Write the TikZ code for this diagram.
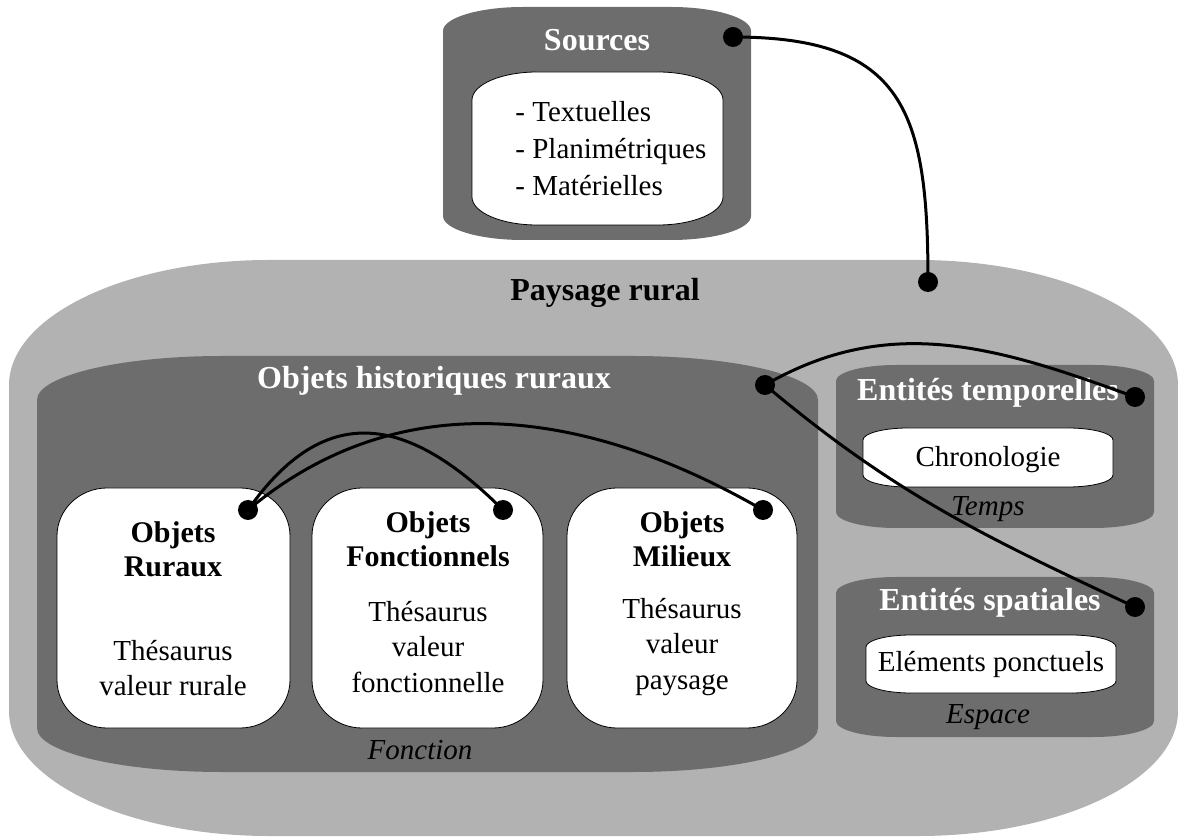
\documentclass[tikz,border=0pt]{standalone}
\usepackage{fontspec}
\setmainfont{Liberation Serif}
\usepackage{tikz}
\usetikzlibrary{calc}
\definecolor{dark}{HTML}{6D6D6D}
\definecolor{light}{HTML}{B2B2B2}

% can-like box: style, x left, y top, x right, y bottom, corner depth, corner span
\newcommand{\canbox}[7]{%
  \path[#1] (#2,#3-#6) .. controls (#2,#3-0.45*#6) and (#2+0.45*#7,#3) .. (#2+#7,#3)
    -- (#4-#7,#3) .. controls (#4-0.45*#7,#3) and (#4,#3-0.45*#6) .. (#4,#3-#6)
    -- (#4,#5+#6) .. controls (#4,#5+0.45*#6) and (#4-0.45*#7,#5) .. (#4-#7,#5)
    -- (#2+#7,#5) .. controls (#2+0.45*#7,#5) and (#2,#5+0.45*#6) .. (#2,#5+#6) -- cycle;}

\begin{document}
\begin{tikzpicture}[x=0.5pt, y=0.5pt,
    every node/.style={inner sep=0pt, font=\fontsize{14.5}{18.5}\selectfont},
    lightbox/.style={fill=light},
    darkbox/.style={fill=dark},
    whitebox/.style={fill=white, draw=black, line width=0.4pt},
    headw/.style={text=white, font=\fontsize{16}{19}\selectfont\bfseries},
    headb/.style={font=\fontsize{16}{19}\selectfont\bfseries},
    objhead/.style={align=center, font=\fontsize{15}{17}\selectfont\bfseries},
    body/.style={align=center, font=\fontsize{14.5}{17.75}\selectfont},
    note/.style={font=\fontsize{14.5}{17}\selectfont\itshape},
    dot/.style={circle, fill=black, minimum size=10pt},
    link/.style={line width=1.5pt, looseness=#1},
    link/.default=1]
  \useasboundingbox (0,0) rectangle (1178,836);

  % containers
  \canbox{lightbox}{9}{576}{1178}{0}{125}{260}
  \canbox{darkbox}{443}{829}{751}{596}{24}{80}
  \canbox{whitebox}{472}{764}{723}{611}{28}{65}
  \canbox{darkbox}{37}{480}{818}{64}{44}{185}
  \canbox{whitebox}{57}{348}{290}{108}{48}{50}
  \canbox{whitebox}{312}{348}{543}{108}{48}{50}
  \canbox{whitebox}{567}{348}{797}{108}{48}{50}
  \canbox{darkbox}{836}{471}{1154}{308}{16}{60}
  \canbox{whitebox}{863}{408}{1113}{349}{12}{45}
  \canbox{darkbox}{836}{259}{1154}{99}{16}{60}
  \canbox{whitebox}{866}{201}{1116}{143}{12}{45}

  % texts
  \node[headw] (sources) at (597,796) {Sources};
  \node[anchor=west, align=left] (sourcelist) at (515,687) {- Textuelles\\- Planimétriques\\- Matérielles};
  \node[headb] (paysage) at (605,543) {Paysage rural};
  \node[headw] (historiques) at (434,455) {Objets historiques ruraux};
  \node[note] (fonction) at (420,86) {Fonction};
  \node[objhead] (ruraux) at (173,287) {Objets\\Ruraux};
  \node[body] (ruraux-th) at (173,168) {Thésaurus\\valeur rurale};
  \node[objhead] (fonctionnels) at (428,297) {Objets\\Fonctionnels};
  \node[body] (fonctionnels-th) at (428,189) {Thésaurus\\valeur\\fonctionnelle};
  \node[objhead] (milieux) at (682,297) {Objets\\Milieux};
  \node[body] (milieux-th) at (682,189) {Thésaurus\\valeur\\paysage};
  \node[headw] (temporelles) at (988,443) {Entités temporelles};
  \node (chrono) at (988,376) {Chronologie};
  \node[note] (temps) at (988,327) {Temps};
  \node[headw] (spatiales) at (990,233) {Entités spatiales};
  \node (ponctuels) at (991,171) {Eléments ponctuels};
  \node[note] (espace) at (988,119) {Espace};

  % dots
  \node[dot] (d-src) at (733,799) {};
  \node[dot] (d-pay) at (928,554) {};
  \node[dot] (d-his) at (765,451) {};
  \node[dot] (d-tem) at (1135,439) {};
  \node[dot] (d-spa) at (1135,229) {};
  \node[dot] (d-rur) at (248,326) {};
  \node[dot] (d-fon) at (503,326) {};
  \node[dot] (d-mil) at (763,326) {};

  % links
  \draw[link=1.4] (d-src.center) to[out=0, in=90] (d-pay.center);
  \draw[link] (d-his.center) to[out=30, in=160] (d-tem.center);
  \draw[link] (d-his.center) to[out=-40, in=155] (d-spa.center);
  \draw[link=1.35] (d-rur.center) to[out=55, in=135] (d-fon.center);
  \draw[link] (d-rur.center) to[out=40, in=150] (d-mil.center);
\end{tikzpicture}
\end{document}
